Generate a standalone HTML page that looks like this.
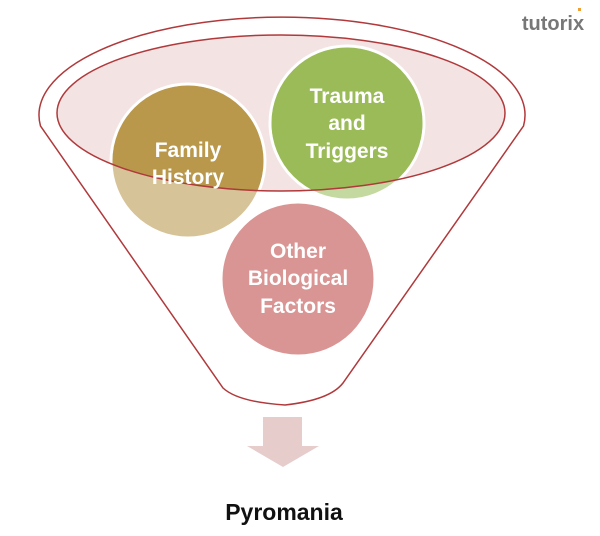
<!DOCTYPE html>
<html><head><style>body{margin:0;background:#fff}</style></head><body>
<svg width="600" height="536" viewBox="0 0 600 536" xmlns="http://www.w3.org/2000/svg" style="display:block">
<defs>
<clipPath id="ell"><ellipse cx="281" cy="113" rx="224" ry="78"/></clipPath>
</defs>
<path d="M40.5,126 A243,98 0 1 1 523.5,126 L343,383 Q330,400 285,405 Q238,402 223,388 Z" fill="none" stroke="#b0393b" stroke-width="1.5"/>
<ellipse cx="281" cy="113" rx="224" ry="78" fill="#f3e3e3"/>
<circle cx="188" cy="161" r="77" fill="#d6c397" stroke="#fff" stroke-width="3"/>
<circle cx="347" cy="123" r="77" fill="#c4d9a0" stroke="#fff" stroke-width="3"/>
<g clip-path="url(#ell)">
<circle cx="188" cy="161" r="75.5" fill="#b9984c"/>
<circle cx="347" cy="123" r="75.5" fill="#9bbb59"/>
</g>
<ellipse cx="281" cy="113" rx="224" ry="78" fill="none" stroke="#b0393b" stroke-width="1.5"/>
<circle cx="298" cy="279" r="77" fill="#d99594" stroke="#fff" stroke-width="3"/>
<g font-family="Liberation Sans, sans-serif" font-weight="bold" fill="#fff" font-size="21" text-anchor="middle">
<text x="188" y="157">Family</text>
<text x="188" y="184">History</text>
<text x="347" y="103">Trauma</text>
<text x="347" y="130">and</text>
<text x="347" y="158">Triggers</text>
<text x="298" y="258">Other</text>
<text x="298" y="285">Biological</text>
<text x="298" y="313">Factors</text>
</g>
<path d="M263,417 H302 V446 H319 L283,467 L247,446 H263 Z" fill="#e7cccc"/>
<text x="284" y="520" font-family="Liberation Sans, sans-serif" font-weight="bold" font-size="23" text-anchor="middle" fill="#111">Pyromania</text>
<text x="553" y="30" font-family="Liberation Sans, sans-serif" font-weight="bold" font-size="20" text-anchor="middle" fill="#777">tutorix</text>
<rect x="578" y="8" width="3" height="3" fill="#f0a030"/>
</svg>
</body></html>
